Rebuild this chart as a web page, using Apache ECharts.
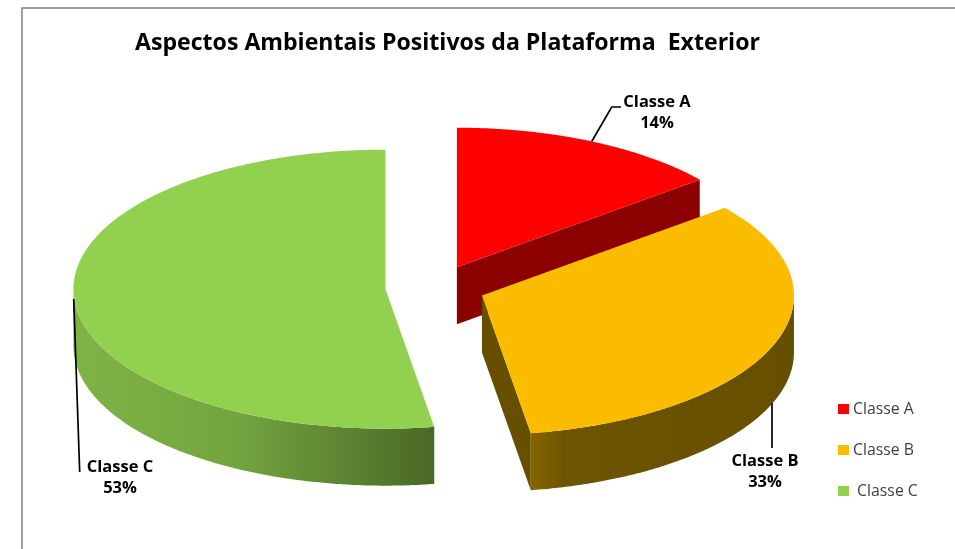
<!DOCTYPE html>
<html>
<head>
<meta charset="utf-8">
<style>html,body{margin:0;padding:0;background:#fff}#c{width:955px;height:549px}</style>
<script src="https://cdn.jsdelivr.net/npm/echarts@6/dist/echarts.min.js"></script>
</head>
<body>
<div id="c"></div>
<script>
const chartTitle = 'Aspectos Ambientais Positivos da Plataforma  Exterior';
const categories = ['Classe A', 'Classe B', 'Classe C'];
const values = [14.2, 33.3, 52.5];

const legendNames = { 'Classe A': 'Classe A', 'Classe B': 'Classe B', 'Classe C': ' Classe C' };
const topColors = ['#ff0000', '#fbbc00', '#92d050'];
const cutColors = ['#8b0000', '#665000', null];
const drawOrder = [1, 3, 2];
const wallStops = [
  null,
  [[0, '#866500'], [0.13, '#6c5400'], [1, '#664f00']],
  [[0, '#80b346'], [0.45, '#74a440'], [0.72, '#5f8733'], [1, '#4a6826']]
];
const pie = { cx: 435.3, cy: 287.4, rx: 312, ry: 139.5, depth: 57, explode: 50 };
const labelLayout = [
  { x: 657, y1: 102, y2: 123, line: [[591.7, 141.5], [611.7, 107], [621, 107]] },
  { x: 765, y1: 461, y2: 482, line: [[772, 403], [772, 448]] },
  { x: 120, y1: 467, y2: 488, line: [[73.7, 299], [79.7, 472]] }
];

const total = values.reduce((a, b) => a + b, 0);
const rad = d => d * Math.PI / 180;

function sliceItem(index) {
  return function (params, api) {
    const value = api.value(0);
    let before = 0;
    for (let i = 0; i < index; i++) before += values[i];
    const a0 = before / total * 360;
    const a1 = a0 + value / total * 360;
    const mid = rad((a0 + a1) / 2);
    const ox = pie.cx + pie.explode * Math.sin(mid);
    const oy = pie.cy - pie.explode * Math.cos(mid) * pie.ry / pie.rx;
    const pt = (deg, dz) => [
      ox + pie.rx * Math.sin(rad(deg)),
      oy - pie.ry * Math.cos(rad(deg)) + (dz || 0)
    ];
    const arc = (from, to, dz) => {
      const out = [];
      const n = Math.max(2, Math.ceil((to - from) * 2));
      for (let i = 0; i <= n; i++) out.push(pt(from + (to - from) * i / n, dz));
      return out;
    };
    const children = [];
    // cut face
    if (cutColors[index]) {
      const p = pt(a1);
      const q = [p[0], p[1] + pie.depth];
      children.push({
        type: 'polygon',
        shape: { points: [[ox, oy], p, q, [ox, oy + pie.depth]] },
        style: { fill: cutColors[index] }
      });
    }
    // outer wall (only the front half of the rim faces the viewer)
    const wa = Math.max(a0, 90), wb = Math.min(a1, 270);
    if (wb > wa && wallStops[index]) {
      const top = arc(wa, wb, 0);
      const bottom = arc(wa, wb, pie.depth).reverse();
      children.push({
        type: 'polygon',
        shape: { points: top.concat(bottom) },
        style: { fill: new echarts.graphic.LinearGradient(0, 0, 1, 0,
          wallStops[index].map(s => ({ offset: s[0], color: s[1] }))) }
      });
    }
    // top face
    children.push({
      type: 'polygon',
      shape: { points: [[ox, oy]].concat(arc(a0, a1, 0)) },
      style: { fill: topColors[index] }
    });
    // leader line and label
    const lay = labelLayout[index];
    children.push({
      type: 'polyline',
      shape: { points: lay.line },
      style: { stroke: '#000', lineWidth: 1.7, fill: null }
    });
    const font = 'bold 16.5px "Open Sans", sans-serif';
    children.push({
      type: 'text',
      style: { text: categories[index], x: lay.x, y: lay.y1, align: 'center', verticalAlign: 'middle', font: font, fill: '#000' }
    });
    children.push({
      type: 'text',
      style: { text: Math.round(value / total * 100) + '%', x: lay.x, y: lay.y2, align: 'center', verticalAlign: 'middle', font: font, fill: '#000' }
    });
    return { type: 'group', children: children };
  };
}

const chart = echarts.init(document.getElementById('c'), null, { renderer: 'canvas' });
chart.setOption({
  animation: false,
  backgroundColor: '#fff',
  title: {
    text: chartTitle,
    left: 442.5, top: 27, textAlign: 'center',
    textStyle: { fontFamily: 'Open Sans', fontWeight: 'bold', fontSize: 23.1, color: '#000' }
  },
  legend: {
    orient: 'vertical',
    left: 838, top: 401,
    icon: 'rect',
    itemWidth: 11, itemHeight: 10, itemGap: 25, padding: 0,
    selectedMode: false,
    data: categories,
    formatter: name => legendNames[name],
    textStyle: { fontFamily: 'Open Sans', fontSize: 15.8, color: '#404040', padding: [0, 0, 0, -1], lineHeight: 15 }
  },
  graphic: [{
    type: 'polyline', silent: true,
    shape: { points: [[22, 549], [22, 8], [955, 8]] },
    style: { stroke: '#808080', lineWidth: 1.5, fill: null }
  }],
  series: categories.map((name, i) => ({
    type: 'custom',
    name: name,
    coordinateSystem: 'none',
    z: drawOrder[i],
    silent: true,
    itemStyle: { color: topColors[i] },
    renderItem: sliceItem(i),
    data: [[values[i]]]
  }))
});
</script>
</body>
</html>
